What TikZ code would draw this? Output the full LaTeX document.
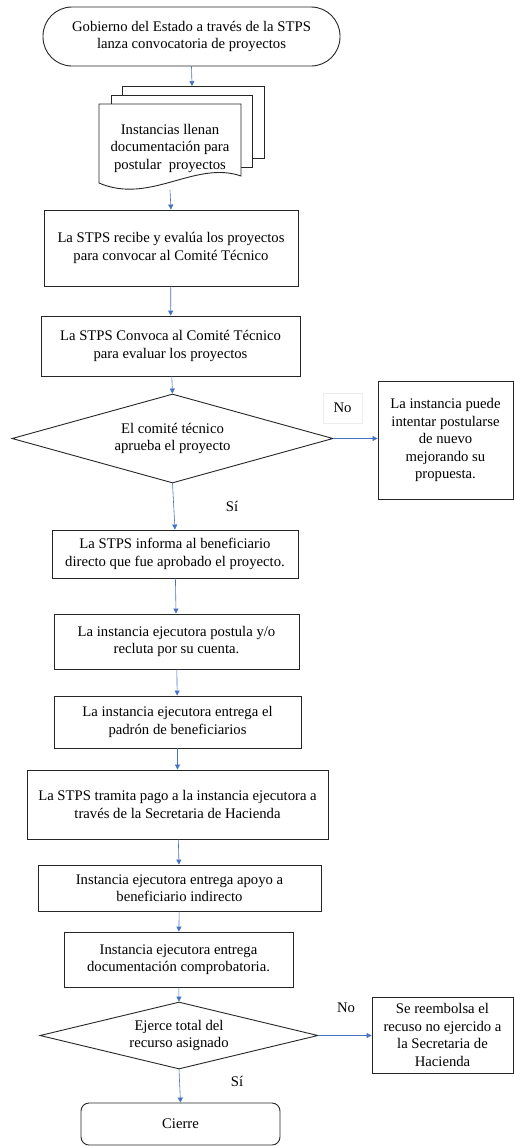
\documentclass[tikz,border=0pt]{standalone}
\usepackage{fontspec}
\setmainfont{Liberation Serif}
\usepackage{xcolor}
\usetikzlibrary{shapes.geometric}
\usetikzlibrary{arrows.meta}
\definecolor{flecha}{HTML}{4472C4}

\begin{document}
\begin{tikzpicture}[x=1pt,y=-1pt,
  font=\fontsize{14.7}{17.5}\selectfont,
  caja/.style={draw=black!85, line width=0.9pt, fill=white, align=center, inner sep=0pt},
  decision/.style={diamond, draw=black!85, line width=0.9pt, align=center, inner sep=0pt},
  flujo/.style={draw=flecha, line width=0.6pt, -{Triangle[length=5pt,width=5pt]}}]
\useasboundingbox (0,0) rectangle (514,1146);

% inicio
\node [caja, rounded corners=29pt, minimum width=297pt, minimum height=59pt] (inicio) at (191.5,36.5)
  {Gobierno del Estado a trav\'es de la STPS\\lanza convocatoria de proyectos};

% documentos multiples
\draw [draw=black!85, line width=0.9pt, fill=white] (122,86) rectangle (264,158);
\draw [draw=black!85, line width=0.9pt, fill=white] (111,95) rectangle (252,167);
\draw [draw=black!85, line width=0.9pt, fill=white] (99,104) -- (241,104) -- (241,176)
  .. controls (195,160) and (150,205) .. (99,183) -- cycle;
\node [align=center] (docs) at (170,148) {Instancias llenan\\documentaci\'on para\\postular\ \ proyectos};
\coordinate (doctop) at (192,86);
\coordinate (docbot) at (170,190);

\node [caja, minimum width=254pt, minimum height=76pt] (recibe) at (171,248)
  {La STPS recibe y eval\'ua los proyectos\\para convocar al Comit\'e T\'ecnico};
\node [caja, minimum width=259pt, minimum height=60pt] (convoca) at (170.5,346)
  {La STPS Convoca al Comit\'e T\'ecnico\\para evaluar los proyectos};
\node [decision, shape aspect=3.6, minimum width=321pt, minimum height=89pt] (aprueba) at (172.5,438.5)
  {El comit\'e t\'ecnico\\aprueba el proyecto};
\node [draw=black!7, minimum width=39pt, minimum height=30pt] (no1) at (342.5,408) {No};
\node [caja, minimum width=135pt, minimum height=118pt] (intentar) at (445.5,440)
  {La instancia puede\\intentar postularse\\de nuevo\\mejorando su\\propuesta.};
\node (si1) at (232,506) {S\'i};
\node [caja, minimum width=246pt, minimum height=48pt] (informa) at (175,554)
  {La STPS informa al beneficiario\\directo que fue aprobado el proyecto.};
\node [caja, minimum width=245pt, minimum height=55pt] (postula) at (176.5,641.5)
  {La instancia ejecutora postula y/o\\recluta por su cuenta.};
\node [caja, minimum width=247pt, minimum height=52pt] (padron) at (177.5,722)
  {La instancia ejecutora entrega el\\padr\'on de beneficiarios};
\node [caja, minimum width=301pt, minimum height=69pt] (tramita) at (177.5,804.5)
  {La STPS tramita pago a la instancia ejecutora a\\trav\'es de la Secretaria de Hacienda};
\node [caja, minimum width=283pt, minimum height=46pt] (apoyo) at (179.5,888)
  {Instancia ejecutora entrega apoyo a\\beneficiario indirecto};
\node [caja, minimum width=229pt, minimum height=55pt] (comprueba) at (178.5,959.5)
  {Instancia ejecutora entrega\\documentaci\'on comprobatoria.};
\node [decision, shape aspect=4.15, minimum width=278pt, minimum height=67pt] (ejerce) at (179,1035.5)
  {Ejerce total del\\recurso asignado};
\node (no2) at (346,1008) {No};
\node [caja, minimum width=141pt, minimum height=76pt] (reembolsa) at (442.5,1035)
  {Se reembolsa el\\recuso no ejercido a\\la Secretaria de\\Hacienda};
\node (si2) at (237,1081) {S\'i};
\node [caja, rounded corners=8pt, minimum width=199pt, minimum height=42pt] (cierre) at (180.5,1124) {Cierre};

% flechas
\draw [flujo] (inicio.south) -- (doctop);
\draw [flujo] (docbot) -- (recibe.north);
\draw [flujo] (recibe) -- (convoca);
\draw [flujo] (convoca) -- (aprueba.north);
\draw [flujo] (aprueba.east) -- (intentar.west |- aprueba.east);
\draw [flujo] (aprueba.south) -- (informa.north);
\draw [flujo] (informa) -- (postula);
\draw [flujo] (postula) -- (padron);
\draw [flujo] (padron) -- (tramita);
\draw [flujo] (tramita) -- (apoyo);
\draw [flujo] (apoyo) -- (comprueba);
\draw [flujo] (comprueba) -- (ejerce.north);
\draw [flujo] (ejerce.east) -- (reembolsa.west |- ejerce.east);
\draw [flujo] (ejerce.south) -- (cierre.north);

\end{tikzpicture}
\end{document}
